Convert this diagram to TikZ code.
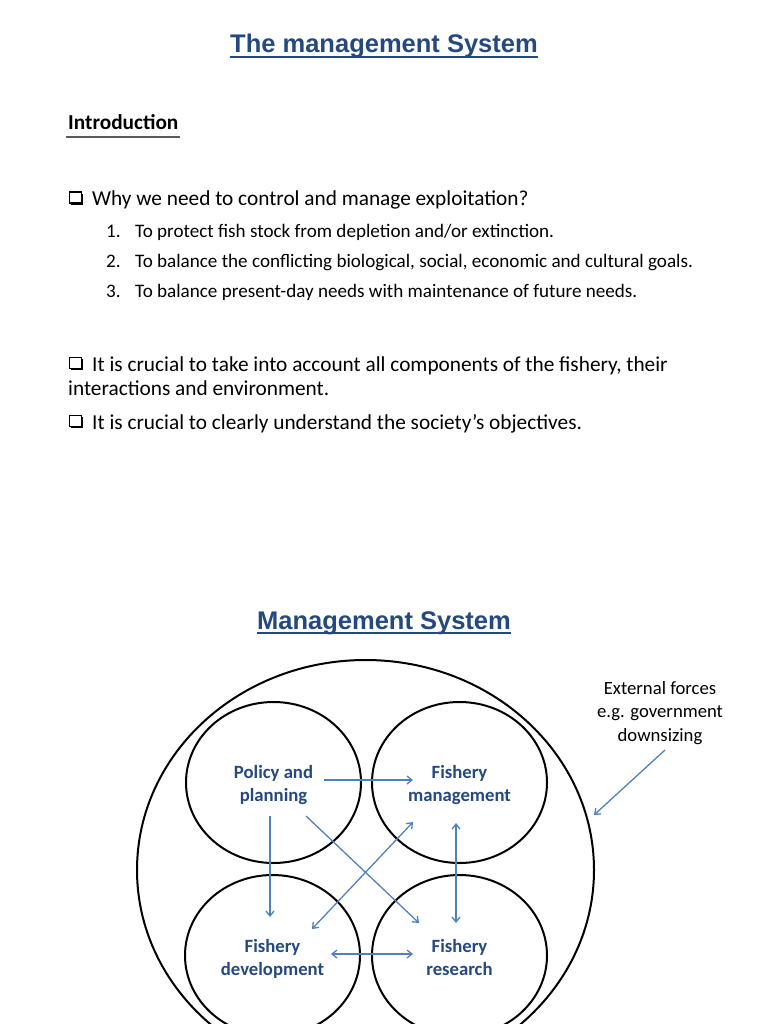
\documentclass[tikz,border=0pt]{standalone}
\usepackage{fontspec}
\setmainfont{Carlito}
\newfontfamily\arialfont{Liberation Sans}
\usetikzlibrary{arrows.meta,shapes.geometric,calc,shadows}
\definecolor{titleblue}{RGB}{36,72,128}
\definecolor{arrowblue}{RGB}{79,129,189}
\definecolor{introgray}{RGB}{90,90,90}
\tikzset{
  titletext/.style={font=\arialfont\bfseries\fontsize{25.5}{30}\selectfont, text=titleblue, inner sep=0pt, anchor=base},
  bodytext/.style={font=\fontsize{21.3}{25}\selectfont, inner sep=0pt, anchor=base west},
  itemtext/.style={font=\fontsize{19.1}{22}\selectfont, inner sep=0pt, anchor=base west},
  checkbox/.style={draw=black, fill=white, line width=1.1pt, minimum width=12.5pt, minimum height=11pt, inner sep=0pt,
     drop shadow={shadow xshift=1.7pt, shadow yshift=-1.7pt, fill=black, opacity=1}},
  unit/.style={draw=black, line width=2pt, ellipse, minimum width=175pt, minimum height=161pt, inner sep=0pt},
  unittext/.style={align=center, text=titleblue, inner sep=0pt, anchor=base, font=\bfseries\fontsize{18.7}{23.3}\selectfont},
  arr/.style={draw=arrowblue, line width=1.3pt, -{Straight Barb[length=5pt,width=8pt]}},
  dbl/.style={draw=arrowblue, line width=1.3pt, {Straight Barb[length=5pt,width=8pt]}-{Straight Barb[length=5pt,width=8pt]}},
}
\begin{document}
\begin{tikzpicture}[x=1pt,y=-1pt]
\useasboundingbox (0,0) rectangle (768,1024);
\clip (0,0) rectangle (768,1024);
% title
\node[titletext] (title) at (384,53) {The management System};
\draw[titleblue, line width=1.8pt] ([yshift=-4pt]title.base west) -- ([yshift=-4pt]title.base east);
% introduction
\node[bodytext, font=\bfseries\fontsize{21.3}{25}\selectfont] (intro) at (68,130) {Introduction};
\draw[introgray, line width=2pt] (66,137.5) -- (180,137.5);
% bullets
\node[checkbox] (b1box) at (75.5,197.5) {};
\node[bodytext] (b1) at (92,206) {Why we need to control and manage exploitation?};
\node[itemtext] (n1) at (106,237) {1.};
\node[itemtext] (i1) at (135,237) {To protect fish stock from depletion and/or extinction.};
\node[itemtext] (n2) at (106,267) {2.};
\node[itemtext] (i2) at (135,267) {To balance the conflicting biological, social, economic and cultural goals.};
\node[itemtext] (n3) at (106,297) {3.};
\node[itemtext] (i3) at (135,297) {To balance present-day needs with maintenance of future needs.};
\node[checkbox] (b2box) at (75.5,363) {};
\node[bodytext] (b2) at (92,371) {It is crucial to take into account all components of the fishery, their};
\node[bodytext] (b2b) at (68,395) {interactions and environment.};
\node[checkbox] (b3box) at (75.5,421) {};
\node[bodytext] (b3) at (92,429) {It is crucial to clearly understand the society’s objectives.};
% diagram title
\node[titletext] (mtitle) at (384,629) {Management System};
\draw[titleblue, line width=1.8pt] ([yshift=-4pt]mtitle.base west) -- ([yshift=-4pt]mtitle.base east);
% outer system
\node[draw=black, line width=2pt, ellipse, minimum width=457pt, minimum height=420pt, inner sep=0pt] (outer) at (365.5,870) {};
% units
\node[unit] (pp) at (273.5,782.5) {};
\node[unit] (fm) at (459.5,782.5) {};
\node[unit] (fd) at (272.5,955.5) {};
\node[unit] (fr) at (459.5,955.5) {};
\node[unittext] (pp-t) at ([yshift=-18.8pt]pp.center) {Policy and\\planning};
\node[unittext] (fm-t) at ([yshift=-18.8pt]fm.center) {Fishery\\management};
\node[unittext] (fd-t) at ([yshift=-19.8pt]fd.center) {Fishery\\development};
\node[unittext] (fr-t) at ([yshift=-19.8pt]fr.center) {Fishery\\research};
% external forces
\node[font=\fontsize{18.7}{23.3}\selectfont, align=center, inner sep=0pt, anchor=base] (ext) at (660,741) {External forces\\e.g. government\\downsizing};
% connector end points
\coordinate (pp-e) at (324,780);
\coordinate (fm-w) at (413,780);
\coordinate (pp-s) at (270,816);
\coordinate (fd-n) at (270,917);
\coordinate (pp-se) at (306,816);
\coordinate (fr-nw) at (419,923);
\coordinate (fd-ne) at (312,929);
\coordinate (fm-sw) at (413,822);
\coordinate (fm-s) at (456,823);
\coordinate (fr-n) at (456,923);
\coordinate (fd-e) at (331,954);
\coordinate (fr-w) at (413,954);
\coordinate (ext-s) at (665,750);
\coordinate (outer-e) at (594,815);
% connectors
\draw[arr] (pp-e) -- (fm-w);
\draw[arr] (pp-s) -- (fd-n);
\draw[arr] (pp-se) -- (fr-nw);
\draw[dbl] (fd-ne) -- (fm-sw);
\draw[dbl] (fm-s) -- (fr-n);
\draw[dbl] (fd-e) -- (fr-w);
\draw[arr] (ext-s) -- (outer-e);
\end{tikzpicture}
\end{document}
